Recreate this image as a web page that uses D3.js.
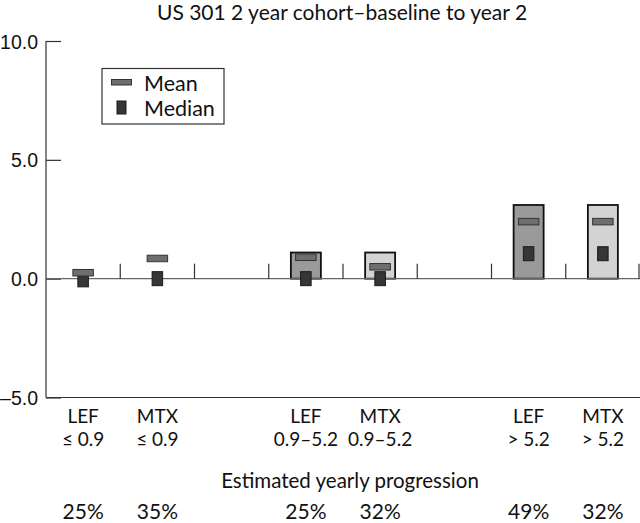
<!DOCTYPE html>
<html>
<head>
<meta charset="utf-8">
<script src="https://cdn.jsdelivr.net/npm/d3@7"></script>
<style>
  html, body { margin: 0; padding: 0; background: #fff; }
  svg { display: block; font-family: Lato, "Noto Sans", sans-serif; }
</style>
</head>
<body>
<svg id="chart" width="640" height="523"></svg>
<script>
// ---- data ----
const drugs = ["LEF", "MTX", "LEF", "MTX", "LEF", "MTX"];
const ranges = ["≤ 0.9", "≤ 0.9", "0.9–5.2", "0.9–5.2", "> 5.2", "> 5.2"];
const slotIndex = [0, 1, 3, 4, 6, 7];           // position in 8 slots (2 gaps)
const barValues = [null, null, 1.1, 1.1, 3.1, 3.1];
const meanValues = [0.25, 0.85, 0.9, 0.5, 2.4, 2.4];
const medianValues = [-0.05, 0.0, 0.0, 0.0, 1.05, 1.05];
const progression = ["25%", "35%", "25%", "32%", "49%", "32%"];
const yTicks = [-5, 0, 5, 10];
const title = "US 301 2 year cohort–baseline to year 2";
const subTitle = "Estimated yearly progression";

// ---- layout ----
const svg = d3.select("#chart");
const mLeft = 46, mRight = 640, mTop = 41, mBottom = 397.5;
const slots = d3.range(8);
const x = d3.scaleBand().domain(slots).range([mLeft, mRight]).padding(0);
const y = d3.scaleLinear().domain([-5, 10]).range([mBottom, mTop]);
const cx = i => x(slotIndex[i]) + x.bandwidth() / 2;

const barFill = d => d === "LEF" ? "#9a9a9a" : "#d3d3d3";

// title
svg.append("text").attr("x", 342).attr("y", 20).attr("text-anchor", "middle")
  .attr("font-size", 21).attr("fill", "#111").text(title);

// y axis
const yAxis = d3.axisRight(y).tickValues(yTicks).tickSize(15).tickFormat(d3.format(".1f"));
const ga = svg.append("g").attr("transform", `translate(${mLeft},0)`).call(yAxis);
ga.select(".domain").remove();
ga.selectAll(".tick line").attr("stroke", "#333").attr("stroke-width", 1.2);
ga.selectAll(".tick text").attr("x", -8).attr("text-anchor", "end")
  .attr("font-size", 19.5).attr("fill", "#111").attr("dy", "0.36em")
  .text(d => d < 0 ? "–" + d3.format(".1f")(-d) : d3.format(".1f")(d));
// axis lines
svg.append("line").attr("x1", mLeft).attr("x2", mLeft).attr("y1", y(10)).attr("y2", mBottom)
  .attr("stroke", "#333").attr("stroke-width", 1.2);
svg.append("line").attr("x1", mLeft).attr("x2", mRight).attr("y1", mBottom).attr("y2", mBottom)
  .attr("stroke", "#333").attr("stroke-width", 1.2);

// bars
const idx = d3.range(drugs.length);
const barW = 30;
svg.append("g").selectAll("rect").data(idx.filter(i => barValues[i] != null)).join("rect")
  .attr("x", i => cx(i) - barW / 2)
  .attr("y", i => y(barValues[i]))
  .attr("width", barW)
  .attr("height", i => y(0) - y(barValues[i]))
  .attr("fill", i => barFill(drugs[i]))
  .attr("stroke", "#111").attr("stroke-width", 1.8);

// zero line
svg.append("line").attr("x1", mLeft).attr("x2", mRight).attr("y1", y(0)).attr("y2", y(0))
  .attr("stroke", "#666").attr("stroke-width", 1.3);
// separators at slot boundaries
svg.append("g").selectAll("line").data(slots).join("line")
  .attr("x1", s => x(s) + x.bandwidth() - (s === 7 ? 1 : 0))
  .attr("x2", s => x(s) + x.bandwidth() - (s === 7 ? 1 : 0))
  .attr("y1", y(0)).attr("y2", y(0) - 15)
  .attr("stroke", "#333").attr("stroke-width", 1.2);

// medians
const medW = 10.5, medH = 14;
svg.append("g").selectAll("rect").data(idx).join("rect")
  .attr("x", i => cx(i) - medW / 2)
  .attr("y", i => y(medianValues[i]) - medH / 2)
  .attr("width", medW).attr("height", medH)
  .attr("fill", "#363636").attr("stroke", "#1a1a1a").attr("stroke-width", 1);
// means
const meanW = 20.5, meanH = 6.5;
svg.append("g").selectAll("rect").data(idx).join("rect")
  .attr("x", i => cx(i) - meanW / 2)
  .attr("y", i => y(meanValues[i]) - meanH / 2)
  .attr("width", meanW).attr("height", meanH)
  .attr("fill", "#6e6e6e").attr("stroke", "#333").attr("stroke-width", 1);

// legend
const lg = svg.append("g");
lg.append("rect").attr("x", 102).attr("y", 68.5).attr("width", 122).attr("height", 55.5)
  .attr("fill", "#fff").attr("stroke", "#333").attr("stroke-width", 1.2);
lg.append("rect").attr("x", 111.5).attr("y", 79.5).attr("width", 20).attr("height", 5.5)
  .attr("fill", "#6e6e6e").attr("stroke", "#333").attr("stroke-width", 1);
lg.append("rect").attr("x", 117).attr("y", 101).attr("width", 9).attr("height", 13)
  .attr("fill", "#363636").attr("stroke", "#1a1a1a").attr("stroke-width", 1);
lg.append("text").attr("x", 144).attr("y", 91).attr("font-size", 21.5).attr("fill", "#111").text("Mean");
lg.append("text").attr("x", 144).attr("y", 115.5).attr("font-size", 21.5).attr("fill", "#111").text("Median");

// category labels
const lab = svg.append("g").attr("text-anchor", "middle").attr("font-size", 19).attr("fill", "#111");
lab.selectAll("text.d").data(idx).join("text").attr("class", "d")
  .attr("x", i => cx(i)).attr("y", 422.5).text(i => drugs[i]);
lab.selectAll("text.r").data(idx).join("text").attr("class", "r")
  .attr("x", i => cx(i)).attr("y", 446).text(i => ranges[i]);
svg.append("text").attr("x", 350).attr("y", 487.5).attr("text-anchor", "middle")
  .attr("font-size", 20.5).attr("fill", "#111").text(subTitle);
lab.selectAll("text.p").data(idx).join("text").attr("class", "p")
  .attr("x", i => cx(i)).attr("y", 519).attr("font-size", 21).text(i => progression[i]);
</script>
</body>
</html>
